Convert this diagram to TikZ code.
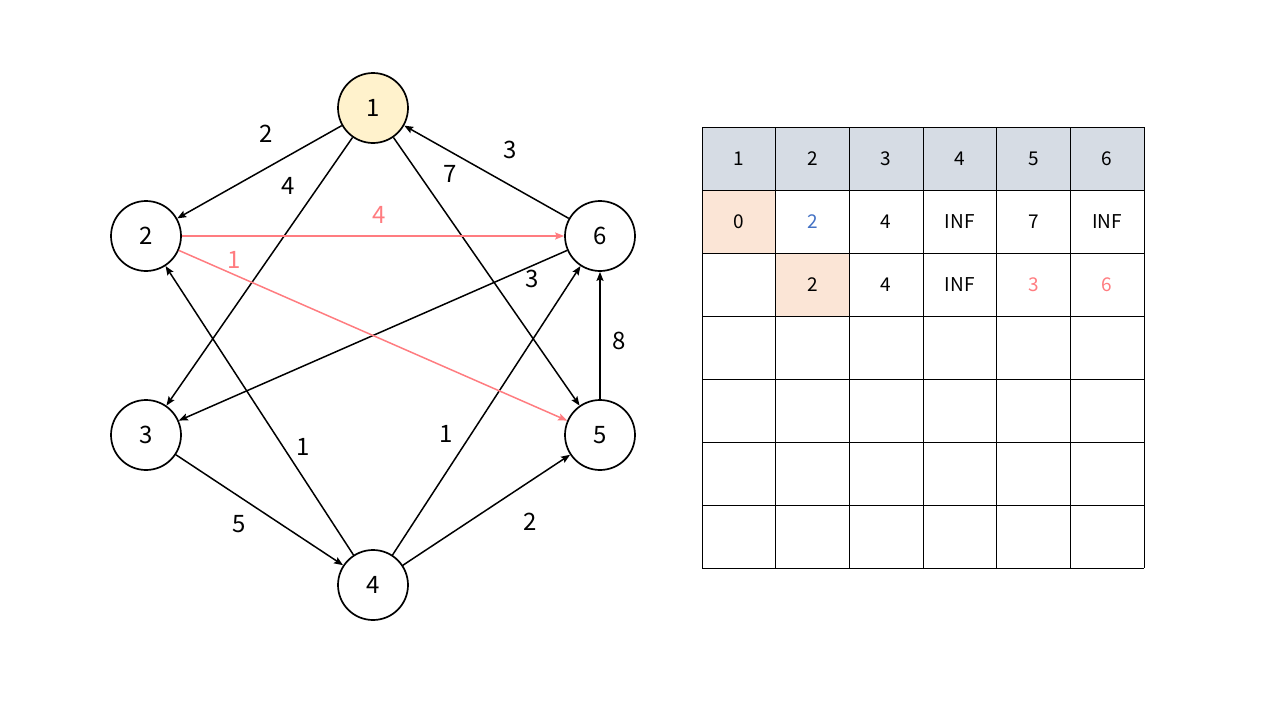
\documentclass[tikz,border=0pt]{standalone}
\usepackage{fontspec}
\setmainfont{Noto Sans CJK KR}
\usetikzlibrary{arrows.meta}
\definecolor{nodeyellow}{HTML}{FFF2CC}
\definecolor{edgered}{HTML}{FF7C80}
\definecolor{headgray}{HTML}{D6DCE4}
\definecolor{peach}{HTML}{FBE5D6}
\definecolor{txtblue}{HTML}{4472C4}
\begin{document}
\begin{tikzpicture}[x=1pt,y=-1pt,
  vert/.style={circle,draw=black,line width=1.7pt,minimum size=70pt,inner sep=0pt,font=\fontsize{24}{28}\selectfont},
  edge/.style={line width=1.5pt,-{Stealth[length=9pt,width=7pt,inset=1.5pt]}},
  rededge/.style={edge,draw=edgered,-{Stealth[length=9pt,width=7pt,inset=1.5pt,color=edgered]}},
  wlabel/.style={font=\fontsize{24}{28}\selectfont,inner sep=0pt},
  cell/.style={font=\fontsize{19}{22}\selectfont,inner sep=0pt},
  gridline/.style={line width=0.9pt,draw=black}]
\useasboundingbox (0,0) rectangle (1280,720);
% vertices
\node[vert,fill=nodeyellow] (v1) at (373,108) {1};
\node[vert] (v2) at (146,236) {2};
\node[vert] (v6) at (600,236) {6};
\node[vert] (v3) at (146,435) {3};
\node[vert] (v5) at (600,435) {5};
\node[vert] (v4) at (373,585) {4};
% edges
\draw[edge] (v1) -- (v2);
\draw[edge] (v1) -- (v3);
\draw[edge] (v1) -- (v5);
\draw[edge] (v6) -- (v1);
\draw[edge] (v6) -- (v3);
\draw[edge] (v4) -- (v2);
\draw[edge] (v4) -- (v6);
\draw[edge] (v5) -- (v6);
\draw[edge] (v3) -- (v4);
\draw[edge] (v4) -- (v5);
\draw[rededge] (v2) -- (v6);
\draw[rededge] (v2) -- (v5);
% weights
\node[wlabel] (w12) at (266,134) {2};
\node[wlabel] (w13) at (288,186) {4};
\node[wlabel] (w15) at (450,174) {7};
\node[wlabel] (w61) at (510,150) {3};
\node[wlabel,text=edgered] (w26) at (379,215) {4};
\node[wlabel,text=edgered] (w25) at (234,260) {1};
\node[wlabel] (w63) at (532,279) {3};
\node[wlabel] (w42) at (303,447) {1};
\node[wlabel] (w46) at (446,434) {1};
\node[wlabel] (w56) at (619,341) {8};
\node[wlabel] (w34) at (239,524) {5};
\node[wlabel] (w45) at (530,522) {2};
% table
\fill[headgray] (702,127) rectangle (1144,190);
\fill[peach] (702,190) rectangle (775.67,253);
\fill[peach] (775.67,253) rectangle (849.33,316);
\foreach \i in {0,...,6} {\draw[gridline] ({702+\i*73.667},127) -- ({702+\i*73.667},568);}
\foreach \j in {0,...,7} {\draw[gridline] (702,{127+\j*63}) -- (1144,{127+\j*63});}
\foreach \i in {1,...,6} {\node[cell] (h\i) at ({702+(\i-0.5)*73.667},158.5) {\i};}
\node[cell] (a1) at ({702+0.5*73.667},221.5) {0};
\node[cell,text=txtblue] (a2) at ({702+1.5*73.667},221.5) {2};
\node[cell] (a3) at ({702+2.5*73.667},221.5) {4};
\node[cell] (a4) at ({702+3.5*73.667},221.5) {INF};
\node[cell] (a5) at ({702+4.5*73.667},221.5) {7};
\node[cell] (a6) at ({702+5.5*73.667},221.5) {INF};
\node[cell] (b2) at ({702+1.5*73.667},284.5) {2};
\node[cell] (b3) at ({702+2.5*73.667},284.5) {4};
\node[cell] (b4) at ({702+3.5*73.667},284.5) {INF};
\node[cell,text=edgered] (b5) at ({702+4.5*73.667},284.5) {3};
\node[cell,text=edgered] (b6) at ({702+5.5*73.667},284.5) {6};
\end{tikzpicture}
\end{document}
